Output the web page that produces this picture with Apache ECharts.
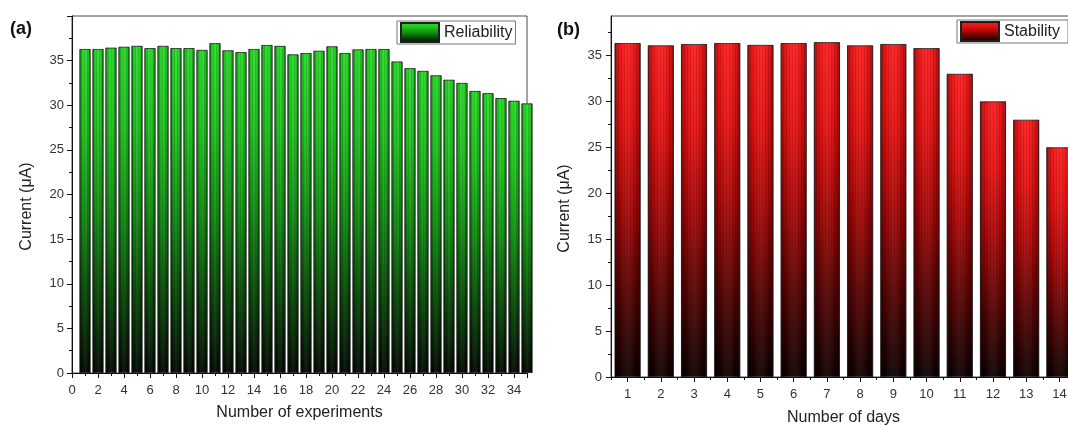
<!DOCTYPE html>
<html>
<head>
<meta charset="utf-8">
<script src="https://cdn.jsdelivr.net/npm/echarts@6/dist/echarts.min.js"></script>
<style>
html, body { margin: 0; padding: 0; background: #fff; }
#main { width: 1068px; height: 426px; }
</style>
</head>
<body>
<div id="main"></div>
<script>
// (a) reliability: current per experiment
var expNo = [1, 2, 3, 4, 5, 6, 7, 8, 9, 10, 11, 12, 13, 14, 15, 16, 17, 18, 19, 20,
             21, 22, 23, 24, 25, 26, 27, 28, 29, 30, 31, 32, 33, 34, 35];
var reliability = [36.3, 36.3, 36.45, 36.55, 36.65, 36.4, 36.65, 36.4, 36.4, 36.2,
                   36.95, 36.15, 35.95, 36.3, 36.75, 36.65, 35.7, 35.85, 36.1, 36.6,
                   35.85, 36.25, 36.3, 36.3, 34.9, 34.15, 33.85, 33.35, 32.85, 32.5,
                   31.6, 31.35, 30.8, 30.5, 30.2];
// (b) stability: current per day
var dayLabels = ['1', '2', '3', '4', '5', '6', '7', '8', '9', '10', '11', '12', '13', '14'];
var stability = [36.35, 36.1, 36.25, 36.35, 36.15, 36.35, 36.45, 36.1, 36.25, 35.8,
                 33.0, 30.0, 28.0, 25.0];
// y tick values for panel (b)
var yTicks = [0, 5, 10, 15, 20, 25, 30, 35];
var yMinorTicks = [2.5, 7.5, 12.5, 17.5, 22.5, 27.5, 32.5, 37.5];

var FONT = "'Liberation Sans', Arial, sans-serif";
var chart = echarts.init(document.getElementById('main'));

function vGrad(stops) {
    return new echarts.graphic.LinearGradient(0, 0, 0, 1, stops);
}
var greenFill = vGrad([
    {offset: 0, color: '#27dd27'}, {offset: 0.25, color: '#1ec41e'},
    {offset: 0.5, color: '#109010'}, {offset: 0.75, color: '#074a07'},
    {offset: 1, color: '#010801'}
]);
var redFill = vGrad([
    {offset: 0, color: '#ff1c1c'}, {offset: 0.25, color: '#e81010'},
    {offset: 0.5, color: '#a80606'}, {offset: 0.75, color: '#560202'},
    {offset: 1, color: '#0d0000'}
]);
// side shading laid over the bars, with thin vertical streaks
function shade() {
    return new echarts.graphic.LinearGradient(0, 0, 1, 0, [
        {offset: 0, color: 'rgba(0,0,0,0.35)'}, {offset: 0.2, color: 'rgba(0,0,0,0.08)'},
        {offset: 0.45, color: 'rgba(255,255,255,0.06)'}, {offset: 0.55, color: 'rgba(255,255,255,0.06)'},
        {offset: 0.8, color: 'rgba(0,0,0,0.1)'}, {offset: 1, color: 'rgba(0,0,0,0.35)'}
    ]);
}
var streaks = {symbol: 'rect', symbolSize: 1, dashArrayX: [1, 2], dashArrayY: [8, 0],
               color: 'rgba(0,0,0,0.13)', rotation: 0};

var axisColor = '#111';
var labelStyle = {fontSize: 13, color: '#333', fontFamily: FONT};
var nameStyle = {fontSize: 16, color: '#222', fontFamily: FONT};

var option = {
    animation: false,
    textStyle: {fontFamily: FONT},
    graphic: [
        {type: 'text', left: 10, top: 20, style: {text: '(a)', font: 'bold 18px ' + FONT, fill: '#111'}},
        {type: 'text', left: 557, top: 21, style: {text: '(b)', font: 'bold 18px ' + FONT, fill: '#111'}}
    ],
    legend: [
        {data: ['Reliability'], left: 397, top: 21, icon: 'rect', itemWidth: 38, itemHeight: 19,
         padding: [1, 3, 1, 3], borderColor: '#777', borderWidth: 1, selectedMode: false,
         textStyle: {fontSize: 16, color: '#222', fontFamily: FONT}},
        {data: ['Stability'], left: 957, top: 20, icon: 'rect', itemWidth: 38, itemHeight: 19,
         padding: [1, 8, 1, 3], borderColor: '#777', borderWidth: 1, selectedMode: false,
         textStyle: {fontSize: 16, color: '#222', fontFamily: FONT}}
    ],
    grid: [
        {left: 72, top: 16, width: 455, height: 357, show: true, borderColor: '#4a4a4a', borderWidth: 1,
         containLabel: false, outerBoundsMode: 'none'},
        {left: 611, top: 16, width: 465, height: 361, show: true, borderColor: '#4a4a4a', borderWidth: 1,
         containLabel: false, outerBoundsMode: 'none'}
    ],
    xAxis: [
        {gridIndex: 0, type: 'value', min: 0, max: 35, interval: 2,
         axisLine: {show: true, lineStyle: {color: axisColor}},
         axisTick: {show: true, length: 5, lineStyle: {color: axisColor}},
         axisLabel: Object.assign({margin: 11, formatter: function (v) { return v % 2 === 0 ? v : ''; }}, labelStyle),
         splitLine: {show: false},
         name: 'Number of experiments', nameLocation: 'middle', nameGap: 32, nameTextStyle: nameStyle},
        {gridIndex: 0, type: 'value', min: 0, max: 35, interval: 1, position: 'bottom',
         axisLine: {show: false}, axisTick: {show: true, length: 3, lineStyle: {color: axisColor}},
         axisLabel: {show: false}, splitLine: {show: false}},
        {gridIndex: 1, type: 'category', data: dayLabels,
         axisLine: {show: true, lineStyle: {color: axisColor}},
         axisTick: {show: true, alignWithLabel: true, interval: 0, length: 5, lineStyle: {color: axisColor}},
         axisLabel: Object.assign({margin: 11, interval: 0}, labelStyle),
         splitLine: {show: false},
         name: 'Number of days', nameLocation: 'middle', nameGap: 33, nameTextStyle: nameStyle},
        {gridIndex: 1, type: 'category', data: dayLabels, position: 'bottom',
         axisLine: {show: false}, axisTick: {show: true, interval: 0, length: 3, lineStyle: {color: axisColor}},
         axisLabel: {show: false}, splitLine: {show: false}}
    ],
    yAxis: [
        {gridIndex: 0, type: 'value', min: 0, max: 40, interval: 5,
         axisLine: {show: true, lineStyle: {color: axisColor}},
         axisTick: {show: true, length: 5, lineStyle: {color: axisColor}},
         minorTick: {show: true, splitNumber: 2, length: 3, lineStyle: {color: axisColor}},
         axisLabel: Object.assign({margin: 8, formatter: function (v) { return v < 40 ? v : ''; }}, labelStyle),
         splitLine: {show: false},
         name: 'Current (\u03bcA)', nameLocation: 'middle', nameGap: 37,
         nameTextStyle: Object.assign({padding: [0, 24, 0, 0]}, nameStyle)},
        {gridIndex: 1, type: 'value', min: 0, max: 39.3,
         axisLine: {show: true, lineStyle: {color: axisColor}},
         axisTick: {show: true, length: 5, customValues: yTicks, lineStyle: {color: axisColor}},
         axisLabel: Object.assign({margin: 9, customValues: yTicks}, labelStyle),
         splitLine: {show: false},
         name: 'Current (\u03bcA)', nameLocation: 'middle', nameGap: 38,
         nameTextStyle: Object.assign({padding: [0, 24, 0, 0]}, nameStyle)},
        {gridIndex: 1, type: 'value', min: 0, max: 39.3, position: 'left',
         axisLine: {show: false},
         axisTick: {show: true, length: 3, customValues: yMinorTicks, lineStyle: {color: axisColor}},
         axisLabel: {show: false}, splitLine: {show: false}}
    ],
    series: [
        {name: 'Reliability', type: 'bar', xAxisIndex: 0, yAxisIndex: 0, barWidth: 11, barGap: '-100%',
         data: expNo.map(function (x, i) { return [x, reliability[i]]; }),
         itemStyle: {color: greenFill, borderColor: '#1e1e1e', borderWidth: 0.8}},
        {name: 'rel-shade', type: 'bar', xAxisIndex: 0, yAxisIndex: 0, barWidth: 11, barGap: '-100%', silent: true,
         data: expNo.map(function (x, i) { return [x, reliability[i]]; }),
         itemStyle: {color: shade(), decal: streaks}},
        {name: 'Stability', type: 'bar', xAxisIndex: 2, yAxisIndex: 1, barWidth: 26, barGap: '-100%',
         data: stability,
         itemStyle: {color: redFill, borderColor: '#1e1e1e', borderWidth: 0.8}},
        {name: 'stab-shade', type: 'bar', xAxisIndex: 2, yAxisIndex: 1, barWidth: 26, barGap: '-100%', silent: true,
         data: stability,
         itemStyle: {color: shade(), decal: streaks}}
    ]
};
chart.setOption(option);
</script>
</body>
</html>
